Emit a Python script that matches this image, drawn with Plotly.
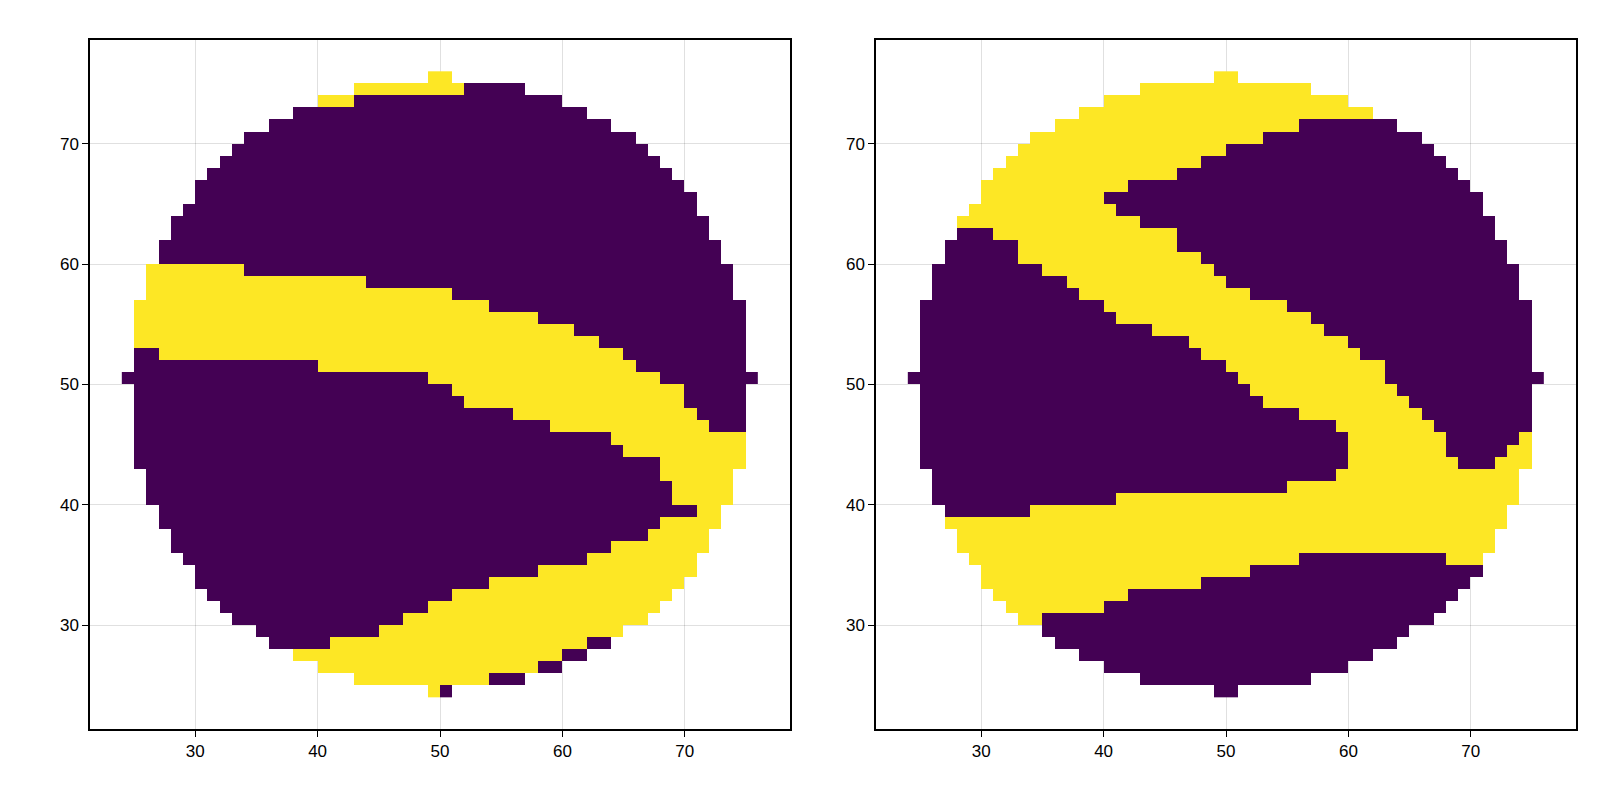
import numpy as np
import plotly.graph_objects as go

# Grid cells: cell (x, y) spans [x, x+1] x [y, y+1]
x_cells = list(range(24, 76))
y_cells = list(range(24, 76))

# Row runs per panel: y -> list of (x_start, x_end, value), 0 = purple, 1 = yellow
left_rows = {
    75: [(49, 51, 1)],
    74: [(43, 52, 1), (52, 57, 0)],
    73: [(40, 43, 1), (43, 60, 0)],
    72: [(38, 62, 0)],
    71: [(36, 64, 0)],
    70: [(34, 66, 0)],
    69: [(33, 67, 0)],
    68: [(32, 68, 0)],
    67: [(31, 69, 0)],
    66: [(30, 70, 0)],
    65: [(30, 71, 0)],
    64: [(29, 71, 0)],
    63: [(28, 72, 0)],
    62: [(28, 72, 0)],
    61: [(27, 73, 0)],
    60: [(27, 73, 0)],
    59: [(26, 34, 1), (34, 74, 0)],
    58: [(26, 44, 1), (44, 74, 0)],
    57: [(26, 51, 1), (51, 74, 0)],
    56: [(25, 54, 1), (54, 75, 0)],
    55: [(25, 58, 1), (58, 75, 0)],
    54: [(25, 61, 1), (61, 75, 0)],
    53: [(25, 63, 1), (63, 75, 0)],
    52: [(25, 27, 0), (27, 65, 1), (65, 75, 0)],
    51: [(25, 40, 0), (40, 66, 1), (66, 75, 0)],
    50: [(24, 49, 0), (49, 68, 1), (68, 76, 0)],
    49: [(25, 51, 0), (51, 70, 1), (70, 75, 0)],
    48: [(25, 52, 0), (52, 70, 1), (70, 75, 0)],
    47: [(25, 56, 0), (56, 71, 1), (71, 75, 0)],
    46: [(25, 59, 0), (59, 72, 1), (72, 75, 0)],
    45: [(25, 64, 0), (64, 75, 1)],
    44: [(25, 65, 0), (65, 75, 1)],
    43: [(25, 68, 0), (68, 75, 1)],
    42: [(26, 68, 0), (68, 74, 1)],
    41: [(26, 69, 0), (69, 74, 1)],
    40: [(26, 69, 0), (69, 74, 1)],
    39: [(27, 71, 0), (71, 73, 1)],
    38: [(27, 68, 0), (68, 73, 1)],
    37: [(28, 67, 0), (67, 72, 1)],
    36: [(28, 64, 0), (64, 72, 1)],
    35: [(29, 62, 0), (62, 71, 1)],
    34: [(30, 58, 0), (58, 71, 1)],
    33: [(30, 54, 0), (54, 70, 1)],
    32: [(31, 51, 0), (51, 69, 1)],
    31: [(32, 49, 0), (49, 68, 1)],
    30: [(33, 47, 0), (47, 67, 1)],
    29: [(35, 45, 0), (45, 65, 1)],
    28: [(36, 41, 0), (41, 62, 1), (62, 64, 0)],
    27: [(38, 60, 1), (60, 62, 0)],
    26: [(40, 58, 1), (58, 60, 0)],
    25: [(43, 54, 1), (54, 57, 0)],
    24: [(49, 50, 1), (50, 51, 0)],
}

right_rows = {
    75: [(49, 51, 1)],
    74: [(43, 57, 1)],
    73: [(40, 60, 1)],
    72: [(38, 62, 1)],
    71: [(36, 56, 1), (56, 64, 0)],
    70: [(34, 53, 1), (53, 66, 0)],
    69: [(33, 50, 1), (50, 67, 0)],
    68: [(32, 48, 1), (48, 68, 0)],
    67: [(31, 46, 1), (46, 69, 0)],
    66: [(30, 42, 1), (42, 70, 0)],
    65: [(30, 40, 1), (40, 71, 0)],
    64: [(29, 41, 1), (41, 71, 0)],
    63: [(28, 43, 1), (43, 72, 0)],
    62: [(28, 31, 0), (31, 46, 1), (46, 72, 0)],
    61: [(27, 33, 0), (33, 46, 1), (46, 73, 0)],
    60: [(27, 33, 0), (33, 48, 1), (48, 73, 0)],
    59: [(26, 35, 0), (35, 49, 1), (49, 74, 0)],
    58: [(26, 37, 0), (37, 50, 1), (50, 74, 0)],
    57: [(26, 38, 0), (38, 52, 1), (52, 74, 0)],
    56: [(25, 40, 0), (40, 55, 1), (55, 75, 0)],
    55: [(25, 41, 0), (41, 57, 1), (57, 75, 0)],
    54: [(25, 44, 0), (44, 58, 1), (58, 75, 0)],
    53: [(25, 47, 0), (47, 60, 1), (60, 75, 0)],
    52: [(25, 48, 0), (48, 61, 1), (61, 75, 0)],
    51: [(25, 50, 0), (50, 63, 1), (63, 75, 0)],
    50: [(24, 51, 0), (51, 63, 1), (63, 76, 0)],
    49: [(25, 52, 0), (52, 64, 1), (64, 75, 0)],
    48: [(25, 53, 0), (53, 65, 1), (65, 75, 0)],
    47: [(25, 56, 0), (56, 66, 1), (66, 75, 0)],
    46: [(25, 59, 0), (59, 67, 1), (67, 75, 0)],
    45: [(25, 60, 0), (60, 68, 1), (68, 74, 0), (74, 75, 1)],
    44: [(25, 60, 0), (60, 68, 1), (68, 73, 0), (73, 75, 1)],
    43: [(25, 60, 0), (60, 69, 1), (69, 72, 0), (72, 75, 1)],
    42: [(26, 59, 0), (59, 74, 1)],
    41: [(26, 55, 0), (55, 74, 1)],
    40: [(26, 41, 0), (41, 74, 1)],
    39: [(27, 34, 0), (34, 73, 1)],
    38: [(27, 73, 1)],
    37: [(28, 72, 1)],
    36: [(28, 72, 1)],
    35: [(29, 56, 1), (56, 68, 0), (68, 71, 1)],
    34: [(30, 52, 1), (52, 71, 0)],
    33: [(30, 48, 1), (48, 70, 0)],
    32: [(31, 42, 1), (42, 69, 0)],
    31: [(32, 40, 1), (40, 68, 0)],
    30: [(33, 35, 1), (35, 67, 0)],
    29: [(35, 65, 0)],
    28: [(36, 64, 0)],
    27: [(38, 62, 0)],
    26: [(40, 60, 0)],
    25: [(43, 57, 0)],
    24: [(49, 51, 0)],
}

tick_vals = [30, 40, 50, 60, 70]


def build_grid(rows):
    z = np.full((len(y_cells), len(x_cells)), np.nan)
    for y, runs in rows.items():
        for x0, x1, v in runs:
            for x in range(x0, x1):
                z[y - y_cells[0], x - x_cells[0]] = v
    return z


fig = go.Figure()
centers_x = [x + 0.5 for x in x_cells]
centers_y = [y + 0.5 for y in y_cells]
scale = [[0, '#440154'], [1, '#FDE725']]

for i, rows in enumerate([left_rows, right_rows]):
    sfx = '' if i == 0 else '2'
    fig.add_trace(go.Heatmap(
        x=centers_x, y=centers_y, z=build_grid(rows),
        colorscale=scale, zmin=0, zmax=1, showscale=False,
        xaxis='x' + sfx, yaxis='y' + sfx, hoverongaps=False
    ))

axis_style = dict(
    range=[21.4, 78.6], tickvals=tick_vals, ticks='outside', ticklen=6,
    tickcolor='black', showline=True, linecolor='black', linewidth=1.5,
    mirror=True, showgrid=True, gridcolor='rgba(0,0,0,0.12)', zeroline=False,
    tickfont=dict(size=17, color='black', family='Liberation Sans, Arial')
)

fig.update_layout(
    width=1600, height=800,
    margin=dict(l=0, r=0, t=32, b=79),
    plot_bgcolor='white', paper_bgcolor='white',
    xaxis=dict(domain=[82 / 1600, 782 / 1600], anchor='y', **axis_style),
    yaxis=dict(domain=[0, 1], anchor='x', **axis_style),
    xaxis2=dict(domain=[868 / 1600, 1568 / 1600], anchor='y2', **axis_style),
    yaxis2=dict(domain=[0, 1], anchor='x2', **axis_style),
)

fig.write_html("out.html")
